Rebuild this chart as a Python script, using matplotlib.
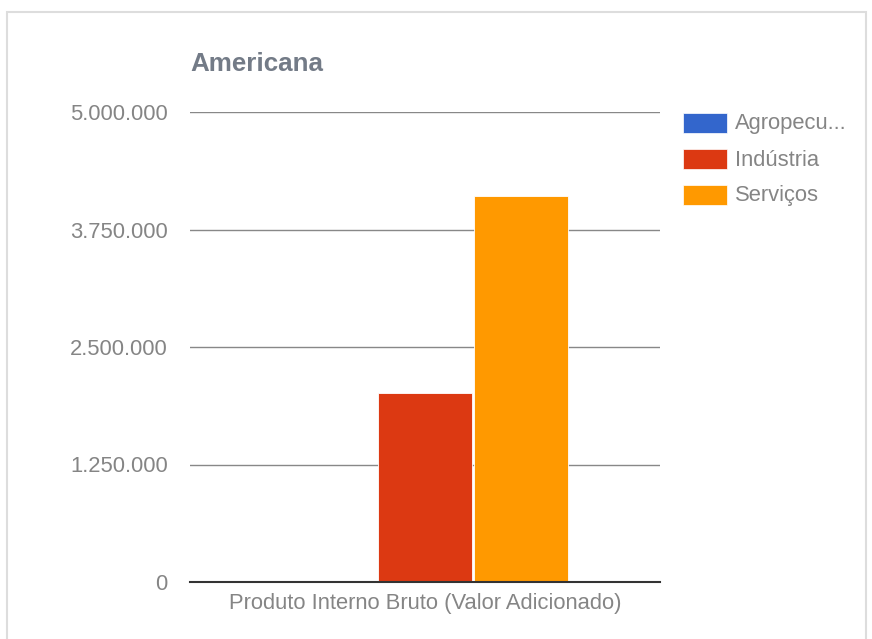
import matplotlib
matplotlib.use("Agg")
import matplotlib.pyplot as plt
from matplotlib.patches import Rectangle
from matplotlib.ticker import FuncFormatter

categories = ["Produto Interno Bruto (Valor Adicionado)"]
series_names = ["Agropecu...", "Indústria", "Serviços"]
series_values = [8000, 2010000, 4110000]
colors = ["#3366cc", "#dc3912", "#ff9900"]
yticks = [0, 1250000, 2500000, 3750000, 5000000]

plt.rcParams['font.family'] = ['Liberation Sans', 'DejaVu Sans']

fig = plt.figure(figsize=(8.72, 6.39), dpi=100)
ax = fig.add_axes([190/872, 1-582/639, 470/872, 470/639])

offsets = [-0.204, 0.0, 0.204]
for name, v, c, o in zip(series_names, series_values, colors, offsets):
    ax.bar(0 + o, v, width=0.2, color=c, edgecolor="#ffffff", linewidth=0.6, label=name, zorder=3)

ax.set_xlim(-0.5, 0.5)
ax.set_ylim(0, 5000000)
ax.set_yticks(yticks)
ax.yaxis.set_major_formatter(FuncFormatter(lambda v, p: f"{int(v):,}".replace(",", ".")))
ax.tick_params(axis='y', length=0, pad=16, labelsize=15.8, labelcolor="#858585")
ax.set_xticks([0])
ax.set_xticklabels(categories)
ax.tick_params(axis='x', length=0, pad=8, labelsize=15.8, labelcolor="#858585")
ax.grid(axis='y', color="#888888", linewidth=1.0, zorder=0)
for s in ["top", "right", "left"]:
    ax.spines[s].set_visible(False)
ax.spines["bottom"].set_color("#333333")
ax.spines["bottom"].set_linewidth(1.5)
ax.spines["bottom"].set_zorder(4)

fig.text(190/872, 1-64/639, "Americana", fontsize=18.7, fontweight="bold", color="#737b87", va="center", ha="left")

# legend
for i, (name, c) in enumerate(zip(series_names, colors)):
    yc = 123 + 36*i
    fig.patches.append(Rectangle((683/872, 1-(yc+10)/639), 44/872, 20/639, transform=fig.transFigure,
                                 facecolor=c, edgecolor="#ffffff", linewidth=0.5))
    fig.text(735/872, 1-(yc+1)/639, name, fontsize=15.8, color="#858585", va="center", ha="left")

# frame
fig.patches.append(Rectangle((7/872, -0.05), 859/872, 1+0.05-12/639, transform=fig.transFigure,
                             facecolor="none", edgecolor="#dddddd", linewidth=1.5))

fig.savefig("out.png", dpi=100)
